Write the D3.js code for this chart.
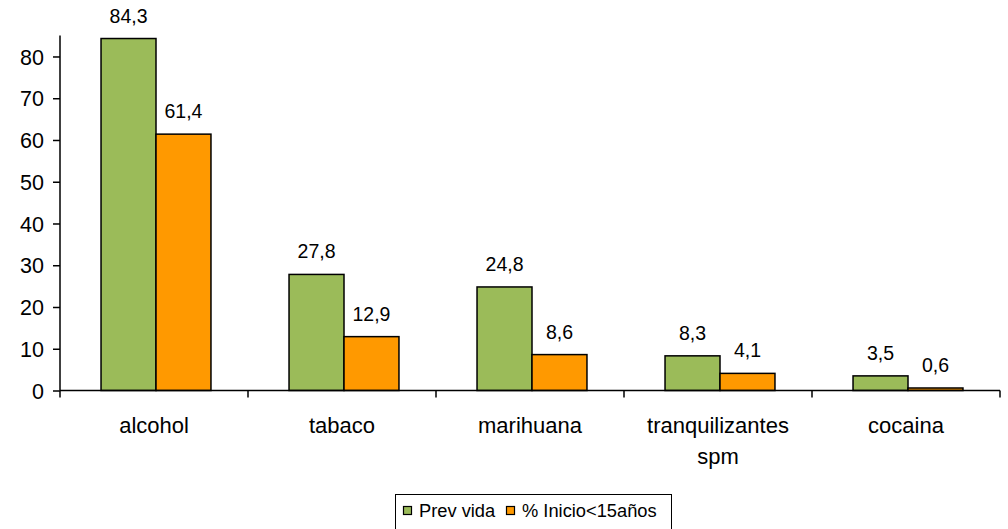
<!DOCTYPE html>
<html><head><meta charset="utf-8">
<script src="https://cdn.jsdelivr.net/npm/d3@7"></script>
<style>body{margin:0;background:#fff}svg{display:block;font-family:"Liberation Sans",Arial,sans-serif}</style>
</head><body><svg id="c" width="1008" height="529"></svg>
<script>
const categories = [["alcohol"],["tabaco"],["marihuana"],["tranquilizantes","spm"],["cocaina"]];
const seriesNames = ["Prev vida","% Inicio<15años"];
const prevVida = [84.3,27.8,24.8,8.3,3.5];
const inicio15 = [61.4,12.9,8.6,4.1,0.6];
const yTicks = [0,10,20,30,40,50,60,70,80];
const colors = ["#9BBB59","#FF9900"];

const svg = d3.select("#c");
const m = {l:60};
const x = d3.scaleBand().domain(d3.range(categories.length)).range([m.l,1000]).paddingInner(0).paddingOuter(0);
const y = d3.scaleLinear().domain([0,85]).range([390.5,35.6]);
const xs = d3.scaleBand().domain([0,1]).range([2,x.bandwidth()+2]).paddingInner(0).paddingOuter(0.71);
const data = [prevVida,inicio15];

const g = svg.append("g");
data.forEach((vals,si)=>{
  g.selectAll(".b"+si).data(vals).join("rect")
    .attr("x",(d,i)=>x(i)+xs(si))
    .attr("width",xs.bandwidth())
    .attr("y",d=>y(d))
    .attr("height",d=>y(0)-y(d))
    .attr("fill",colors[si]).attr("stroke","#000").attr("stroke-width",1.5);
  g.selectAll(".l"+si).data(vals).join("text")
    .attr("x",(d,i)=>x(i)+xs(si)+xs.bandwidth()/2)
    .attr("y",d=>y(d)-16)
    .attr("text-anchor","middle").attr("font-size",19.5).attr("fill","#000")
    .text(d=>String(d).replace(".",","));
});

// y axis
const ya = svg.append("g").attr("transform",`translate(${m.l},0)`)
  .call(d3.axisLeft(y).tickValues(yTicks).tickSize(7).tickPadding(9));
ya.select(".domain").attr("d",`M0,${y(85)}V${y(0)}`).attr("stroke","#000").attr("stroke-width",1.5);
ya.selectAll(".tick line").attr("stroke","#000").attr("stroke-width",1.5);
ya.selectAll(".tick text").attr("font-size",21.5).attr("font-family","Liberation Sans, Arial").attr("fill","#000").attr("dy","0.36em");

// x axis
const xa = svg.append("g");
xa.append("line").attr("x1",m.l).attr("x2",1000).attr("y1",y(0)).attr("y2",y(0)).attr("stroke","#000").attr("stroke-width",1.5);
const bounds = d3.range(categories.length+1).map(i=> i<categories.length ? x(i) : x(i-1)+x.bandwidth());
xa.selectAll(".t").data(bounds).join("line")
  .attr("x1",d=>d).attr("x2",d=>d).attr("y1",y(0)).attr("y2",y(0)+7).attr("stroke","#000").attr("stroke-width",1.5);
xa.selectAll(".cl").data(categories).join("text")
  .attr("x",(d,i)=>x(i)+x.bandwidth()/2).attr("y",433)
  .attr("text-anchor","middle").attr("font-size",22).attr("fill","#000")
  .each(function(d){
    const xx = d3.select(this).attr("x");
    d3.select(this).selectAll("tspan").data(d).join("tspan")
      .attr("x",xx).attr("dy",(t,j)=>j?31:0).text(t=>t);
  });

// legend
const lg = svg.append("g");
lg.append("rect").attr("x",395.5).attr("y",494.5).attr("width",276).attr("height",40).attr("fill","#fff").attr("stroke","#000").attr("stroke-width",1);
const items = [{x:403,tx:419},{x:506,tx:522}];
seriesNames.forEach((n,i)=>{
  lg.append("rect").attr("x",items[i].x+0.5).attr("y",506.5).attr("width",8).attr("height",8).attr("fill",colors[i]).attr("stroke","#000").attr("stroke-width",1.2);
  lg.append("text").attr("x",items[i].tx).attr("y",517).attr("font-size",18.3).attr("fill","#000").text(n);
});
</script></body></html>
